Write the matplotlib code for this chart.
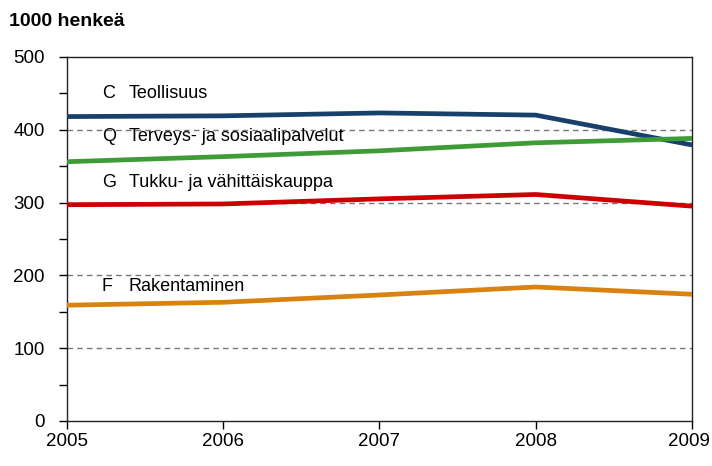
import matplotlib
matplotlib.use("Agg")
import matplotlib.pyplot as plt
import matplotlib.transforms as mtransforms
from matplotlib.ticker import MultipleLocator

years = [2005, 2006, 2007, 2008, 2009]
teollisuus = [418, 419, 423, 420, 379]
terveys = [356, 363, 371, 382, 388]
kauppa = [297, 298, 305, 311, 295]
rakentaminen = [159, 163, 173, 184, 174]

series = [
    ("C", "Teollisuus", teollisuus, "#17406b", 450),
    ("Q", "Terveys- ja sosiaalipalvelut", terveys, "#3f9b37", 391),
    ("G", "Tukku- ja vähittäiskauppa", kauppa, "#cc0000", 328),
    ("F", "Rakentaminen", rakentaminen, "#d9820f", 185),
]

plt.rcParams['font.family'] = ['Liberation Sans', 'DejaVu Sans']

fig = plt.figure(figsize=(7.12, 4.66), dpi=100)
ax = fig.add_axes([0.094, 0.0966, 0.878, 0.7814])

for yv in [100, 200, 300, 400]:
    ax.axhline(yv, color="#777777", lw=1.0, ls=(0, (4, 3)), zorder=1)

for code, name, vals, col, ly in series:
    ax.plot(years, vals, color=col, lw=3.4, zorder=3, solid_capstyle='butt')
    ax.text(2005.224, ly, code, fontsize=13, va="center", ha="left", zorder=4)
    ax.text(2005.397, ly, name, fontsize=13, va="center", ha="left", zorder=4)

ax.set_xlim(2005, 2009)
ax.set_ylim(0, 500)
ax.set_xticks(years)
ax.set_xticklabels([str(y) for y in years])
ax.yaxis.set_major_locator(MultipleLocator(100))
ax.yaxis.set_minor_locator(MultipleLocator(50))
ax.tick_params(axis="both", which="major", direction="out", length=6, width=1, labelsize=13.5)
ax.tick_params(axis="y", which="major", pad=10)
ax.tick_params(axis="y", which="minor", direction="out", length=6, width=1)
ax.tick_params(axis="x", pad=3)
for s in ax.spines.values():
    s.set_linewidth(1.0)
    s.set_color("#222222")

fig.canvas.draw()
last = ax.get_xticklabels()[-1]
last.set_transform(last.get_transform() + mtransforms.ScaledTranslation(-3 / 100, 0, fig.dpi_scale_trans))

fig.text(0.012, 0.953, "1000 henkeä", fontsize=14, fontweight="bold", ha="left", va="center")

fig.savefig("out.png", dpi=100)
